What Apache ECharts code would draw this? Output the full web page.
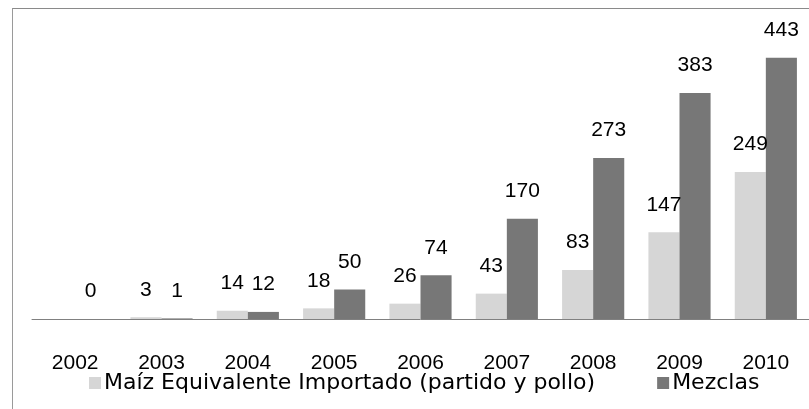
<!DOCTYPE html>
<html>
<head>
<meta charset="utf-8">
<script src="https://cdn.jsdelivr.net/npm/echarts@6/dist/echarts.min.js"></script>
<style>
  html, body { margin: 0; padding: 0; background: #fff; }
  #frame {
    position: absolute; left: 12px; top: 8px; width: 820px; height: 420px;
    border-top: 1px solid #8a8a8a; border-left: 1px solid #9a9a9a;
  }
  #chart { position: absolute; left: 0; top: 0; width: 809px; height: 409px; }
</style>
</head>
<body>
<div id="frame"></div>
<div id="chart"></div>
<script>
// years on the x axis
const years = ['2002', '2003', '2004', '2005', '2006', '2007', '2008', '2009', '2010']
// Maíz equivalente importado (partido y pollo); no value shown for 2002
const maizValues = ['-', 3, 14, 18, 26, 43, 83, 147, 249]
// Mezclas
const mezclasValues = [0, 1, 12, 50, 74, 170, 273, 383, 443]

const font = 'Liberation Sans, Arial, sans-serif'

const chart = echarts.init(document.getElementById('chart'))

const valueLabel = {
  show: true,
  position: 'top',
  distance: 17,
  color: '#000',
  fontSize: 21,
  fontFamily: font
}

const option = {
  animation: false,
  legend: {
    top: 367,
    left: 84,
    itemWidth: 12,
    itemHeight: 12,
    itemGap: 62,
    icon: 'rect',
    textStyle: { fontSize: 22, fontFamily: 'DejaVu Sans, sans-serif', color: '#000', padding: [0, 0, 0, -2] },
    data: ['Maíz Equivalente Importado (partido y pollo)', 'Mezclas']
  },
  grid: {
    left: 32,
    top: 24,
    width: 789,
    height: 295
  },
  xAxis: {
    type: 'category',
    data: years,
    axisLine: { lineStyle: { color: '#808080', width: 1 } },
    axisTick: { length: 7, lineStyle: { color: '#808080' } },
    axisLabel: {
      margin: 34,
      color: '#000',
      fontSize: 21,
      fontFamily: font
    }
  },
  yAxis: {
    type: 'value',
    min: 0,
    max: 500,
    show: false,
    splitLine: { show: false }
  },
  series: [
    {
      name: 'Maíz Equivalente Importado (partido y pollo)',
      type: 'bar',
      data: maizValues,
      barGap: '0%',
      barCategoryGap: '28%',
      itemStyle: { color: '#d6d6d6' },
      label: valueLabel
    },
    {
      name: 'Mezclas',
      type: 'bar',
      data: mezclasValues,
      itemStyle: { color: '#777777' },
      label: valueLabel
    }
  ]
}
chart.setOption(option)
</script>
</body>
</html>
